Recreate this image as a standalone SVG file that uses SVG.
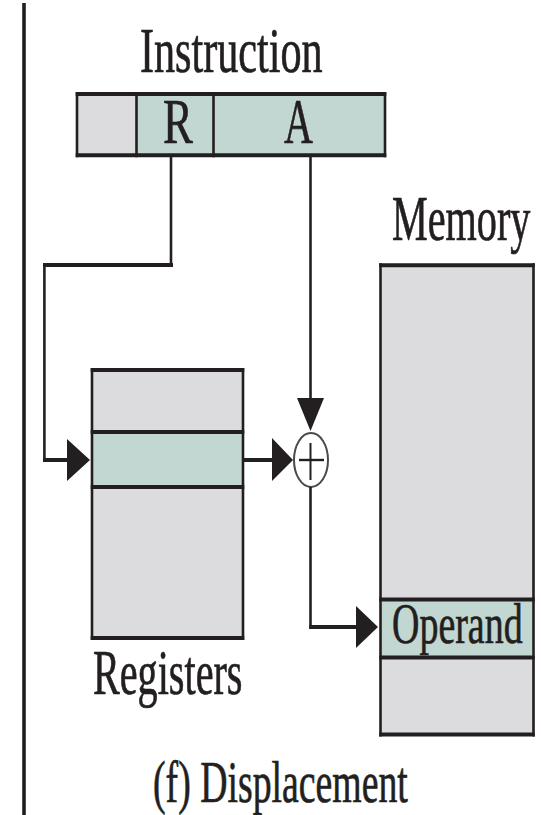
<svg xmlns="http://www.w3.org/2000/svg" width="541" height="815" viewBox="0 0 541 815">
<style>
.gray{fill:#dcdcde}
.teal{fill:#c3d7d2}
.bh{stroke:#231f20;stroke-width:4;fill:none}
.bv{stroke:#231f20;stroke-width:2.6;fill:none}
.ah{fill:#231f20}
.lbl{font-family:"Liberation Serif","Times New Roman",serif;fill:#231f20;stroke:#231f20;stroke-width:0.7}
</style>
<rect width="541" height="815" fill="#ffffff"/>
<line x1="24" y1="3" x2="24" y2="815" stroke="#231f20" stroke-width="3.6"/>

<g id="instruction">
  <text class="lbl" transform="translate(140 72) scale(0.65 1)" font-size="63" textLength="281" lengthAdjust="spacingAndGlyphs">Instruction</text>
  <rect class="gray" x="77" y="94" width="59.5" height="61.3"/>
  <rect class="teal" x="136.5" y="94" width="248.5" height="61.3"/>
  <path class="bh" d="M75.7 94H386.3M75.7 155.3H386.3"/>
  <path class="bv" d="M77 92V157.3M136.5 92V157.3M213.5 92V157.3M385 92V157.3"/>
  <text class="lbl" transform="translate(163 143) scale(0.65 1)" font-size="64" textLength="46" lengthAdjust="spacingAndGlyphs">R</text>
  <text class="lbl" transform="translate(284 143) scale(0.65 1)" font-size="64" textLength="44.5" lengthAdjust="spacingAndGlyphs">A</text>
</g>

<g id="registers">
  <rect class="gray" x="92" y="370" width="151" height="268"/>
  <rect class="teal" x="92" y="432" width="151" height="55"/>
  <path class="bh" d="M90.7 370H244.3M90.7 432H244.3M90.7 487H244.3M90.7 638H244.3"/>
  <path class="bv" d="M92 368V640M243 368V640"/>
  <text class="lbl" transform="translate(93 694) scale(0.65 1)" font-size="63" textLength="230" lengthAdjust="spacingAndGlyphs">Registers</text>
</g>

<g id="memory">
  <text class="lbl" transform="translate(392 240) scale(0.65 1)" font-size="64" textLength="213" lengthAdjust="spacingAndGlyphs">Memory</text>
  <rect class="gray" x="380.5" y="265" width="153" height="469.5"/>
  <rect class="teal" x="380.5" y="599.5" width="153" height="58"/>
  <path class="bh" d="M379.2 265.3H534.8M379.2 599.5H534.8M379.2 657.5H534.8M379.2 734.5H534.8"/>
  <path class="bv" d="M380.5 263.3V736.5M533.5 263.3V736.5"/>
  <text class="lbl" transform="translate(392 643) scale(0.65 1)" font-size="57" textLength="201" lengthAdjust="spacingAndGlyphs">Operand</text>
</g>

<g id="adder">
  <ellipse cx="311" cy="460" rx="17" ry="27" fill="#ffffff" stroke="#4a4a4a" stroke-width="2"/>
  <line x1="299" y1="460" x2="324" y2="460" stroke="#231f20" stroke-width="2.4"/>
  <line x1="310.5" y1="443" x2="310.5" y2="480" stroke="#231f20" stroke-width="2"/>
</g>

<g id="connectors">
  <path class="bv" d="M171 157V265"/>
  <path class="bh" d="M173 265H43"/>
  <path class="bv" d="M44.4 263V460"/>
  <path class="bh" d="M43 460H69"/>
  <polygon class="ah" points="67,439 67,481 90,460"/>
  <path class="bv" d="M310.5 157V400"/>
  <polygon class="ah" points="297,398 324,398 310.5,431"/>
  <path class="bh" d="M244 460H274"/>
  <polygon class="ah" points="272,438 272,481 293,460"/>
  <path class="bv" d="M310.5 487V629"/>
  <path class="bh" d="M309.2 627H358"/>
  <polygon class="ah" points="356,606 356,648 378,627"/>
</g>

<g id="caption">
  <text class="lbl" transform="translate(153 802) scale(0.65 1)" font-size="60" textLength="392" lengthAdjust="spacingAndGlyphs">(f) Displacement</text>
</g>
</svg>
